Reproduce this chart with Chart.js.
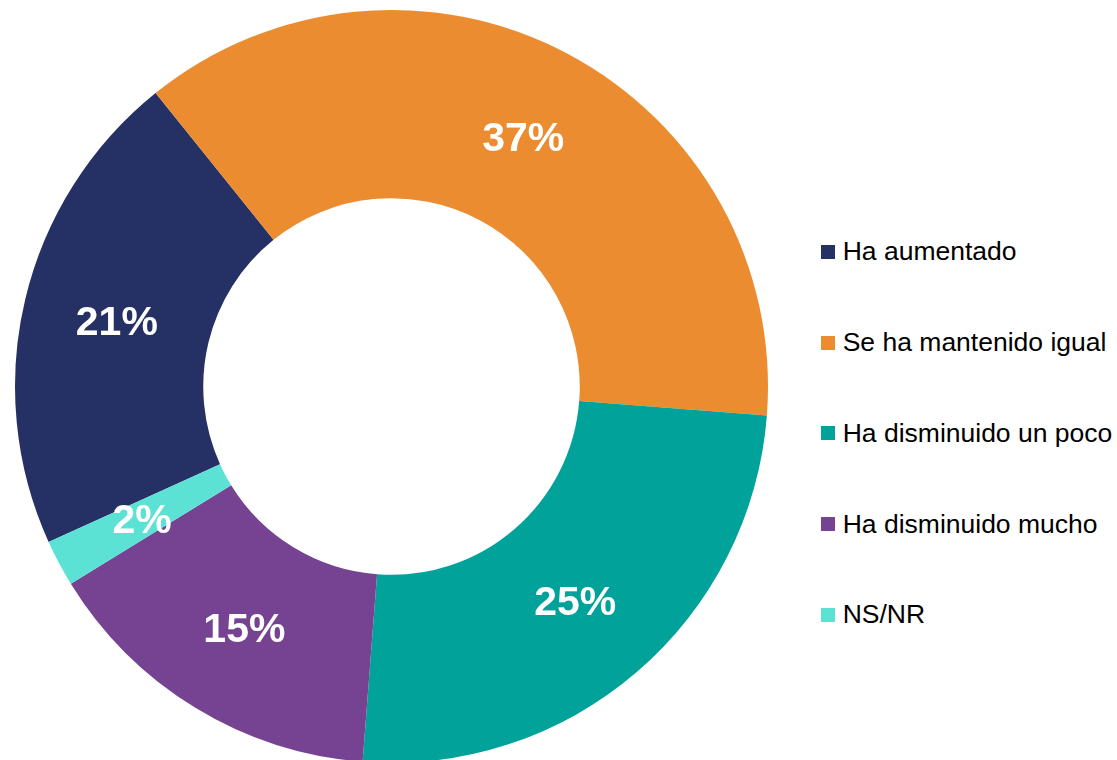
<!DOCTYPE html>
<html>
<head>
<meta charset="utf-8">
<script src="https://cdn.jsdelivr.net/npm/chart.js@4"></script>
<style>
  html, body { margin: 0; padding: 0; background: #fff; overflow: hidden; }
  #wrap { position: absolute; left: 0; top: 0; width: 783px; height: 763px; }
  #legend {
    position: absolute; left: 821px; top: 206.6px;
    margin: 0; padding: 0; list-style: none;
    font-family: "Liberation Sans", Arial, sans-serif; font-size: 26.5px; color: #000;
  }
  #legend li { height: 90.75px; display: flex; align-items: center; white-space: nowrap; }
  #legend span.box { display: inline-block; width: 14px; height: 14px; margin-right: 7.7px; }
</style>
</head>
<body>
<div id="wrap"><canvas id="donut"></canvas></div>
<ul id="legend"></ul>
<script>
var labels = ['Ha aumentado', 'Se ha mantenido igual', 'Ha disminuido un poco', 'Ha disminuido mucho', 'NS/NR'];
var values = [21, 37, 25, 15, 2];
var colors = ['#253164', '#EC8C30', '#00A29A', '#764393', '#5CE2D4'];

// white percentage text in the middle of each slice
var sliceLabels = {
    id: 'sliceLabels',
    afterDatasetsDraw: function(chart) {
        var ctx = chart.ctx;
        var meta = chart.getDatasetMeta(0);
        ctx.save();
        ctx.fillStyle = '#fff';
        ctx.font = 'bold 41px "Liberation Sans", Arial, sans-serif';
        ctx.textAlign = 'center';
        ctx.textBaseline = 'middle';
        meta.data.forEach(function(arc, i) {
            var p = arc.tooltipPosition();
            ctx.fillText(chart.data.datasets[0].data[i] + '%', p.x, p.y + 3);
        });
        ctx.restore();
    }
};

new Chart(document.getElementById('donut'), {
    type: 'doughnut',
    data: {
        labels: labels,
        datasets: [{
            data: values,
            backgroundColor: colors,
            borderWidth: 0,
            hoverOffset: 0
        }]
    },
    options: {
        responsive: true,
        maintainAspectRatio: false,
        animation: false,
        events: [],
        rotation: -114.4,
        cutout: '50%',
        layout: { padding: { top: 10 } },
        plugins: {
            legend: { display: false },
            tooltip: { enabled: false }
        }
    },
    plugins: [sliceLabels]
});

var legend = document.getElementById('legend');
labels.forEach(function(name, i) {
    var li = document.createElement('li');
    var box = document.createElement('span');
    box.className = 'box';
    box.style.background = colors[i];
    li.appendChild(box);
    li.appendChild(document.createTextNode(name));
    legend.appendChild(li);
});
</script>
</body>
</html>
